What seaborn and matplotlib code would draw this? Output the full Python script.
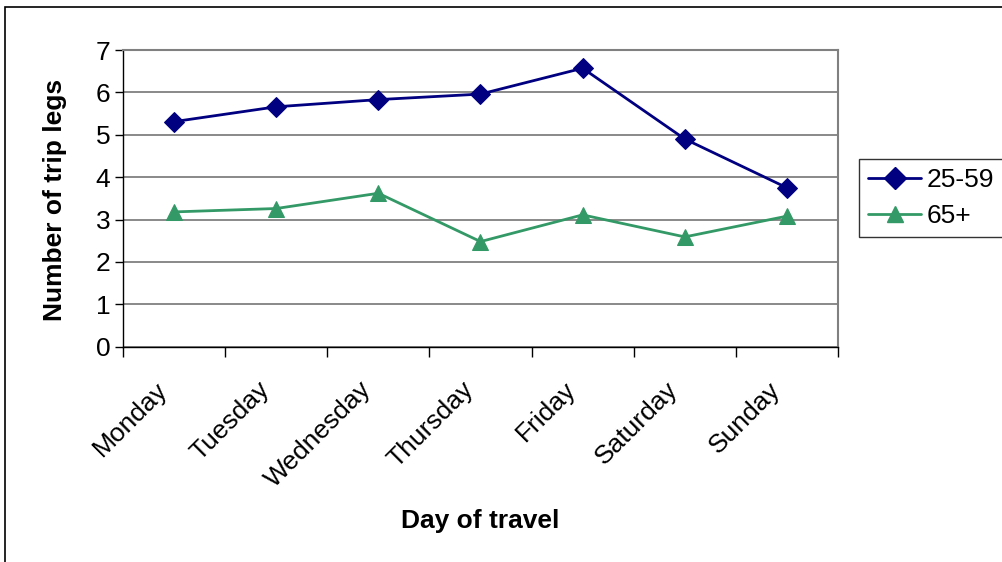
import numpy as np
import pandas as pd
import matplotlib
matplotlib.use("Agg")
import matplotlib.pyplot as plt
import matplotlib.transforms as mtransforms
from matplotlib.patches import Rectangle
from matplotlib.lines import Line2D
import seaborn as sns

days = ["Monday", "Tuesday", "Wednesday", "Thursday", "Friday", "Saturday", "Sunday"]
legs_25_59 = [5.31, 5.66, 5.83, 5.96, 6.57, 4.90, 3.75]
legs_65_plus = [3.18, 3.26, 3.62, 2.48, 3.11, 2.59, 3.08]
groups = ["25-59", "65+"]

sns.set_theme(style="white")
plt.rcParams["font.family"] = ["Liberation Sans", "DejaVu Sans"]
plt.rcParams["text.color"] = "black"
plt.rcParams["xtick.color"] = "black"
plt.rcParams["ytick.color"] = "black"

df = pd.DataFrame({
    "pos": list(range(len(days))) * 2,
    "legs": legs_25_59 + legs_65_plus,
    "group": [groups[0]] * len(days) + [groups[1]] * len(days),
})

colors = {"25-59": "#000080", "65+": "#339966"}
marks = {"25-59": "D", "65+": "^"}

fig = plt.figure(figsize=(10.03, 5.62), dpi=100)
ax = fig.add_axes([123 / 1003, 1 - 346.7 / 562, 715 / 1003, 296.7 / 562])

for g in groups:
    sub = df[df["group"] == g]
    sns.lineplot(data=sub, x="pos", y="legs", ax=ax, color=colors[g],
                 marker=marks[g], markersize=10 if g == "25-59" else 11,
                 markeredgecolor=colors[g], linewidth=2, legend=False)

ax.set_xlim(-0.5, len(days) - 0.5)
ax.set_ylim(0, 7)
ax.set_yticks(range(8))
ax.yaxis.grid(True, color="#808080", linewidth=1.3)
ax.set_axisbelow(True)

# category boundaries get the ticks, labels sit in the middle
ax.set_xticks(np.arange(-0.5, len(days), 1.0))
ax.set_xticklabels([])
ax.set_xticks(range(len(days)), minor=True)
ax.set_xticklabels(days, minor=True, rotation=45, ha="right",
                   rotation_mode="anchor", fontsize=19)
ax.tick_params(axis="x", which="minor", length=0, pad=22)
ax.tick_params(axis="x", which="major", direction="out", length=7, width=1, color="black", bottom=True)
ax.tick_params(axis="y", direction="out", length=6, width=1, color="black", left=True, labelsize=19, pad=3)

shift = mtransforms.ScaledTranslation(-19 / 100, 0, fig.dpi_scale_trans)
for lbl in ax.get_xticklabels(minor=True):
    lbl.set_transform(lbl.get_transform() + shift)

for side in ["top", "right"]:
    ax.spines[side].set_color("#808080")
    ax.spines[side].set_linewidth(1.5)
for side in ["left", "bottom"]:
    ax.spines[side].set_color("black")
    ax.spines[side].set_linewidth(1)

ax.set_xlabel("")
ax.set_ylabel("")
fig.text(480 / 1003, 1 - 521 / 562, "Day of travel", ha="center", va="center",
         fontsize=19, fontweight="bold")
fig.text(55 / 1003, 1 - 200 / 562, "Number of trip legs", ha="center", va="center",
         rotation=90, fontsize=19, fontweight="bold")

handles = [Line2D([], [], color=colors[g], marker=marks[g], markersize=11, linewidth=2)
           for g in groups]
leg = fig.legend(handles, groups, loc="upper left",
                 bbox_to_anchor=(859 / 1003, 1 - 159 / 562), fontsize=19,
                 frameon=True, fancybox=False, edgecolor="black",
                 handlelength=2.0, handletextpad=0.2, borderpad=0.35,
                 labelspacing=0.45, borderaxespad=0)
leg.get_frame().set_linewidth(1)

# outer chart border
fig.patches.append(Rectangle((5 / 1003, -0.1), 1.1, 1 - 7 / 562 + 0.1,
                             transform=fig.transFigure, fill=False,
                             edgecolor="black", linewidth=1.2, clip_on=False))

fig.savefig("out.png", dpi=100)
